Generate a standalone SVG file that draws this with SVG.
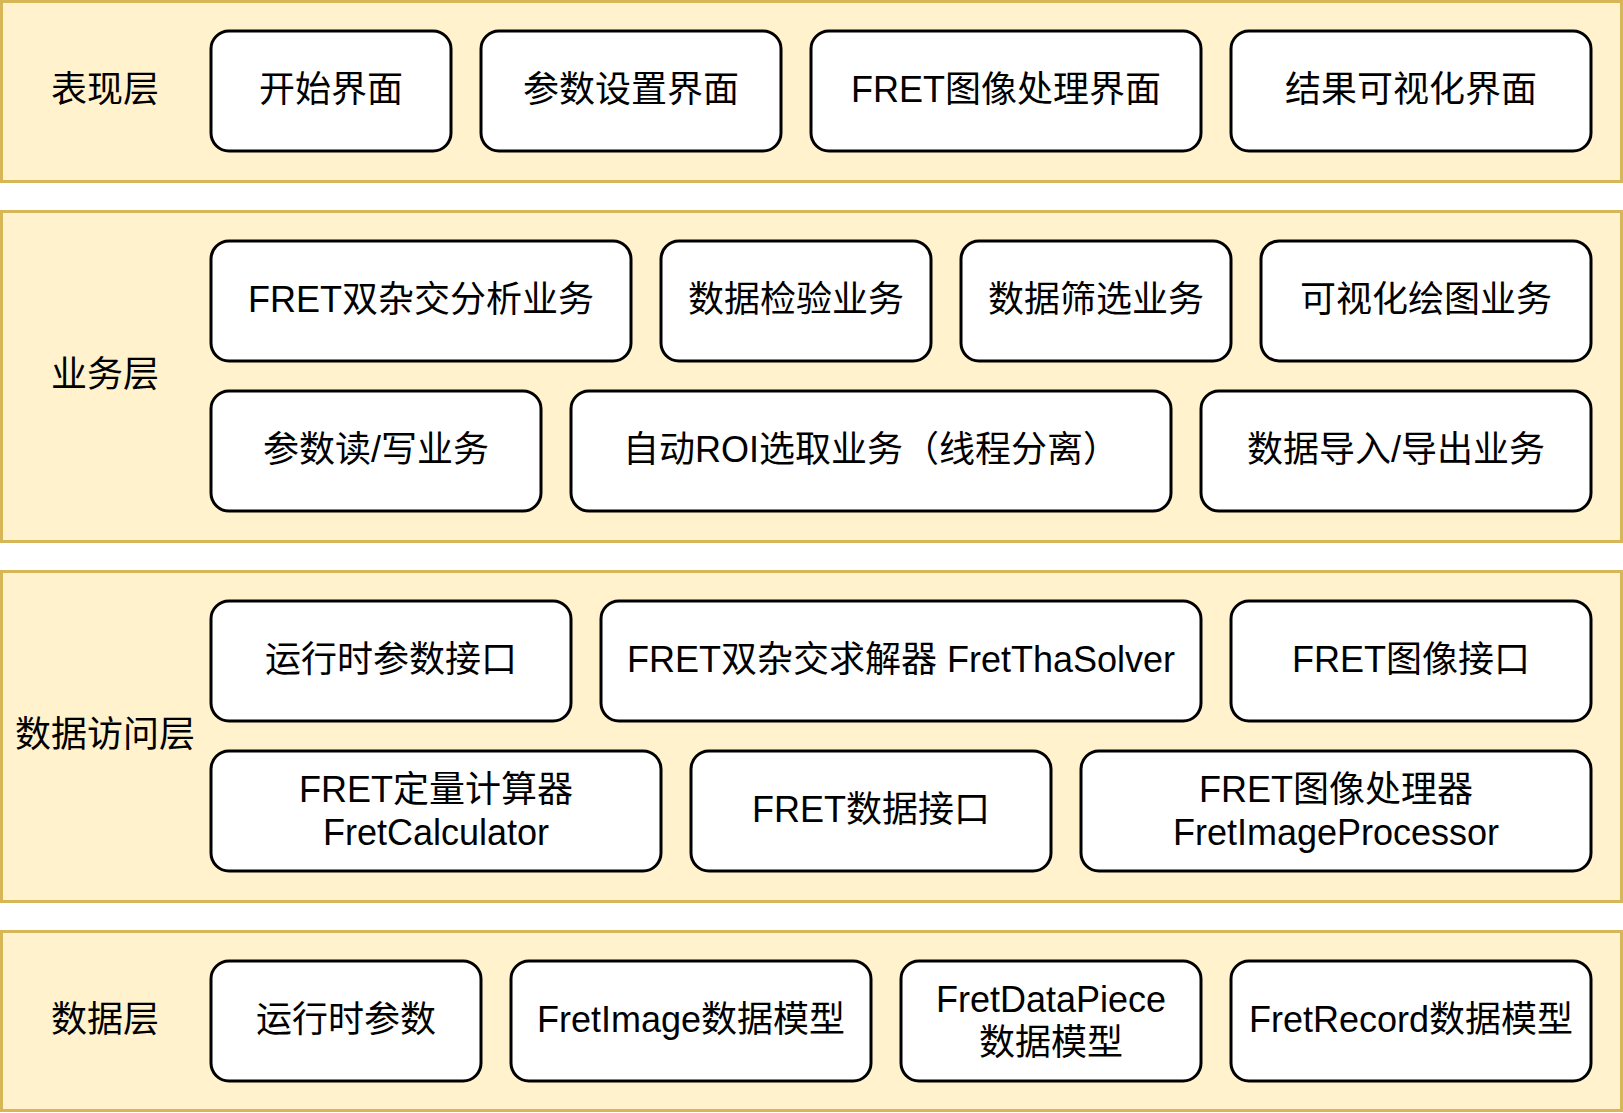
<svg xmlns="http://www.w3.org/2000/svg" width="1623" height="1113" viewBox="0 0 1623 1113">
<style>
.layer{fill:#fff2cc;stroke:#d6b656;stroke-width:3}
.node{fill:#ffffff;stroke:#000000;stroke-width:3}
text{font-family:"Liberation Sans","Noto Sans CJK SC",sans-serif;font-size:36px;fill:#000;text-anchor:middle;dominant-baseline:central}
</style>
<rect width="1623" height="1113" fill="#ffffff"/>
<g id="layer-presentation">
<rect class="layer" x="1.5" y="1.5" width="1620" height="180"/>
<text x="105" y="89">表现层</text>
</g>
<g id="layer-business">
<rect class="layer" x="1.5" y="211.5" width="1620" height="330"/>
<text x="105" y="374">业务层</text>
</g>
<g id="layer-dataaccess">
<rect class="layer" x="1.5" y="571.5" width="1620" height="330"/>
<text x="105" y="734">数据访问层</text>
</g>
<g id="layer-data">
<rect class="layer" x="1.5" y="931.5" width="1620" height="179"/>
<text x="105" y="1019">数据层</text>
</g>

<g id="n-start"><rect class="node" x="211" y="31" width="240" height="120" rx="18"/><text x="331" y="89">开始界面</text></g>
<g id="n-param-ui"><rect class="node" x="481" y="31" width="300" height="120" rx="18"/><text x="631" y="89">参数设置界面</text></g>
<g id="n-fret-ui"><rect class="node" x="811" y="31" width="390" height="120" rx="18"/><text x="1006" y="89">FRET图像处理界面</text></g>
<g id="n-vis-ui"><rect class="node" x="1231" y="31" width="360" height="120" rx="18"/><text x="1411" y="89">结果可视化界面</text></g>

<g id="n-tha"><rect class="node" x="211" y="241" width="420" height="120" rx="18"/><text x="421" y="299">FRET双杂交分析业务</text></g>
<g id="n-check"><rect class="node" x="661" y="241" width="270" height="120" rx="18"/><text x="796" y="299">数据检验业务</text></g>
<g id="n-filter"><rect class="node" x="961" y="241" width="270" height="120" rx="18"/><text x="1096" y="299">数据筛选业务</text></g>
<g id="n-plot"><rect class="node" x="1261" y="241" width="330" height="120" rx="18"/><text x="1426" y="299">可视化绘图业务</text></g>
<g id="n-rw"><rect class="node" x="211" y="391" width="330" height="120" rx="18"/><text x="376" y="449">参数读/写业务</text></g>
<g id="n-roi"><rect class="node" x="571" y="391" width="600" height="120" rx="18"/><text x="871" y="449">自动ROI选取业务（线程分离）</text></g>
<g id="n-io"><rect class="node" x="1201" y="391" width="390" height="120" rx="18"/><text x="1396" y="449">数据导入/导出业务</text></g>

<g id="n-rtp-if"><rect class="node" x="211" y="601" width="360" height="120" rx="18"/><text x="391" y="659">运行时参数接口</text></g>
<g id="n-solver"><rect class="node" x="601" y="601" width="600" height="120" rx="18"/><text x="901" y="659">FRET双杂交求解器 FretThaSolver</text></g>
<g id="n-img-if"><rect class="node" x="1231" y="601" width="360" height="120" rx="18"/><text x="1411" y="659">FRET图像接口</text></g>
<g id="n-calc"><rect class="node" x="211" y="751" width="450" height="120" rx="18"/><text x="436" y="789.5">FRET定量计算器</text><text x="436" y="832.5">FretCalculator</text></g>
<g id="n-data-if"><rect class="node" x="691" y="751" width="360" height="120" rx="18"/><text x="871" y="809">FRET数据接口</text></g>
<g id="n-proc"><rect class="node" x="1081" y="751" width="510" height="120" rx="18"/><text x="1336" y="789.5">FRET图像处理器</text><text x="1336" y="832.5">FretImageProcessor</text></g>

<g id="n-rtp"><rect class="node" x="211" y="961" width="270" height="120" rx="18"/><text x="346" y="1019">运行时参数</text></g>
<g id="n-img-model"><rect class="node" x="511" y="961" width="360" height="120" rx="18"/><text x="691" y="1019">FretImage数据模型</text></g>
<g id="n-piece"><rect class="node" x="901" y="961" width="300" height="120" rx="18"/><text x="1051" y="999.5">FretDataPiece</text><text x="1051" y="1042.5">数据模型</text></g>
<g id="n-record"><rect class="node" x="1231" y="961" width="360" height="120" rx="18"/><text x="1411" y="1019">FretRecord数据模型</text></g>

<g id="connectors"></g>
</svg>
